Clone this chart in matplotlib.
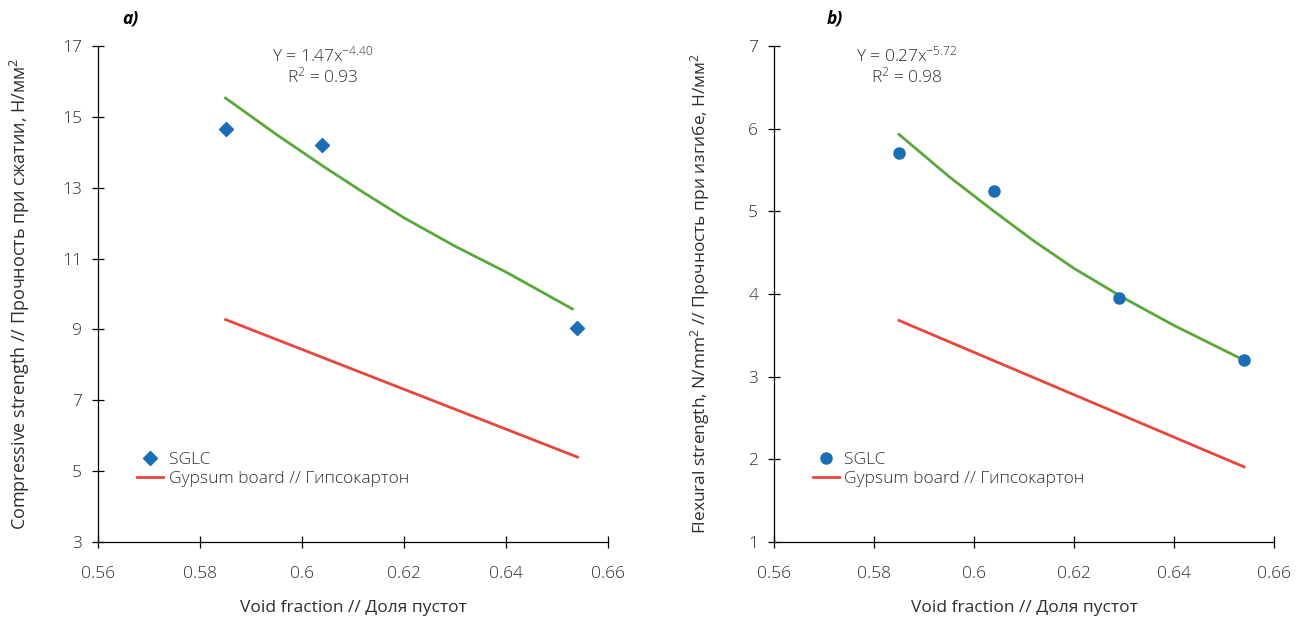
import matplotlib.pyplot as plt
import numpy as np

plt.rcParams['font.family'] = ['Open Sans', 'DejaVu Sans']
plt.rcParams['font.weight'] = 'light'
plt.rcParams['mathtext.default'] = 'regular'

# panel a) compressive strength
void_a = [0.585, 0.604, 0.654]
sglc_a = [14.65, 14.2, 9.05]
fit_x_a = [0.585, 0.595, 0.604, 0.612, 0.62, 0.63, 0.64, 0.653]
fit_y_a = [15.53, 14.5, 13.62, 12.87, 12.15, 11.35, 10.62, 9.58]
board_x_a = [0.585, 0.654]
board_y_a = [9.28, 5.4]

# panel b) flexural strength
void_b = [0.585, 0.604, 0.629, 0.654]
sglc_b = [5.71, 5.24, 3.95, 3.2]
fit_x_b = [0.585, 0.595, 0.604, 0.612, 0.62, 0.63, 0.64, 0.654]
fit_y_b = [5.93, 5.42, 5.0, 4.64, 4.31, 3.95, 3.62, 3.2]
board_x_b = [0.585, 0.654]
board_y_b = [3.68, 1.91]

blue = '#1b6db5'
green = '#58a83a'
red = '#e8463a'
txt = '#2e2e2e'

fig = plt.figure(figsize=(12.97, 6.21), dpi=100)
ax1 = fig.add_axes([0.0756, 0.127, 0.3932, 0.799])
ax2 = fig.add_axes([0.5968, 0.127, 0.3855, 0.799])

def style(ax, ylim, yticks):
    ax.set_xlim(0.56, 0.66)
    ax.set_ylim(*ylim)
    ax.set_xticks([0.56, 0.58, 0.6, 0.62, 0.64, 0.66])
    ax.set_xticklabels(['0.56', '0.58', '0.6', '0.62', '0.64', '0.66'])
    ax.set_yticks(yticks)
    for s in ['top', 'right']:
        ax.spines[s].set_visible(False)
    for s in ['left', 'bottom']:
        ax.spines[s].set_linewidth(0.9)
    ax.tick_params(direction='inout', length=9, width=0.9, labelsize=12.5,
                   labelcolor=txt)
    ax.tick_params(axis='x', pad=13)
    ax.tick_params(axis='y', pad=7)
    ax.set_xlabel('Void fraction // Доля пустот', fontsize=12.5, color=txt, labelpad=13)

style(ax1, (3, 17), [3, 5, 7, 9, 11, 13, 15, 17])
ax1.plot(fit_x_a, fit_y_a, color=green, lw=2)
ax1.plot(board_x_a, board_y_a, color=red, lw=2, label='Gypsum board // Гипсокартон')
ax1.plot(void_a, sglc_a, 'D', color=blue, ms=7, ls='none', label='SGLC')
ax1.set_ylabel('Compressive strength // Прочность при сжатии, Н/мм$^2$',
               fontsize=13, color=txt, labelpad=22)
ax1.text(0.44, 1.0, 'Y = 1.47x$^{-4.40}$\nR$^2$ = 0.93', transform=ax1.transAxes,
         ha='center', va='top', fontsize=12.5, color=txt, linespacing=1.05)
h, l = ax1.get_legend_handles_labels()
ax1.legend(h[::-1], l[::-1], loc='upper left', bbox_to_anchor=(0.06, 0.2),
           frameon=False, fontsize=12.5, handlelength=1.5, handletextpad=0.3,
           labelspacing=0.2, borderpad=0, labelcolor=txt)
fig.text(0.094, 0.962, 'a)', fontsize=12.5, fontweight='bold', fontstyle='italic')

style(ax2, (1, 7), [1, 2, 3, 4, 5, 6, 7])
ax2.plot(fit_x_b, fit_y_b, color=green, lw=2)
ax2.plot(board_x_b, board_y_b, color=red, lw=2, label='Gypsum board // Гипсокартон')
ax2.plot(void_b, sglc_b, 'o', color=blue, ms=8, ls='none', label='SGLC')
ax2.set_ylabel('Flexural strength, N/mm$^2$ // Прочность при изгибе, Н/мм$^2$',
               fontsize=12.5, color=txt, labelpad=26)
ax2.text(0.265, 1.0, 'Y = 0.27x$^{-5.72}$\nR$^2$ = 0.98', transform=ax2.transAxes,
         ha='center', va='top', fontsize=12.5, color=txt, linespacing=1.05)
h, l = ax2.get_legend_handles_labels()
ax2.legend(h[::-1], l[::-1], loc='upper left', bbox_to_anchor=(0.06, 0.2),
           frameon=False, fontsize=12.5, handlelength=1.5, handletextpad=0.3,
           labelspacing=0.2, borderpad=0, labelcolor=txt)
fig.text(0.637, 0.962, 'b)', fontsize=12.5, fontweight='bold', fontstyle='italic')

fig.savefig('out.png', dpi=100)
